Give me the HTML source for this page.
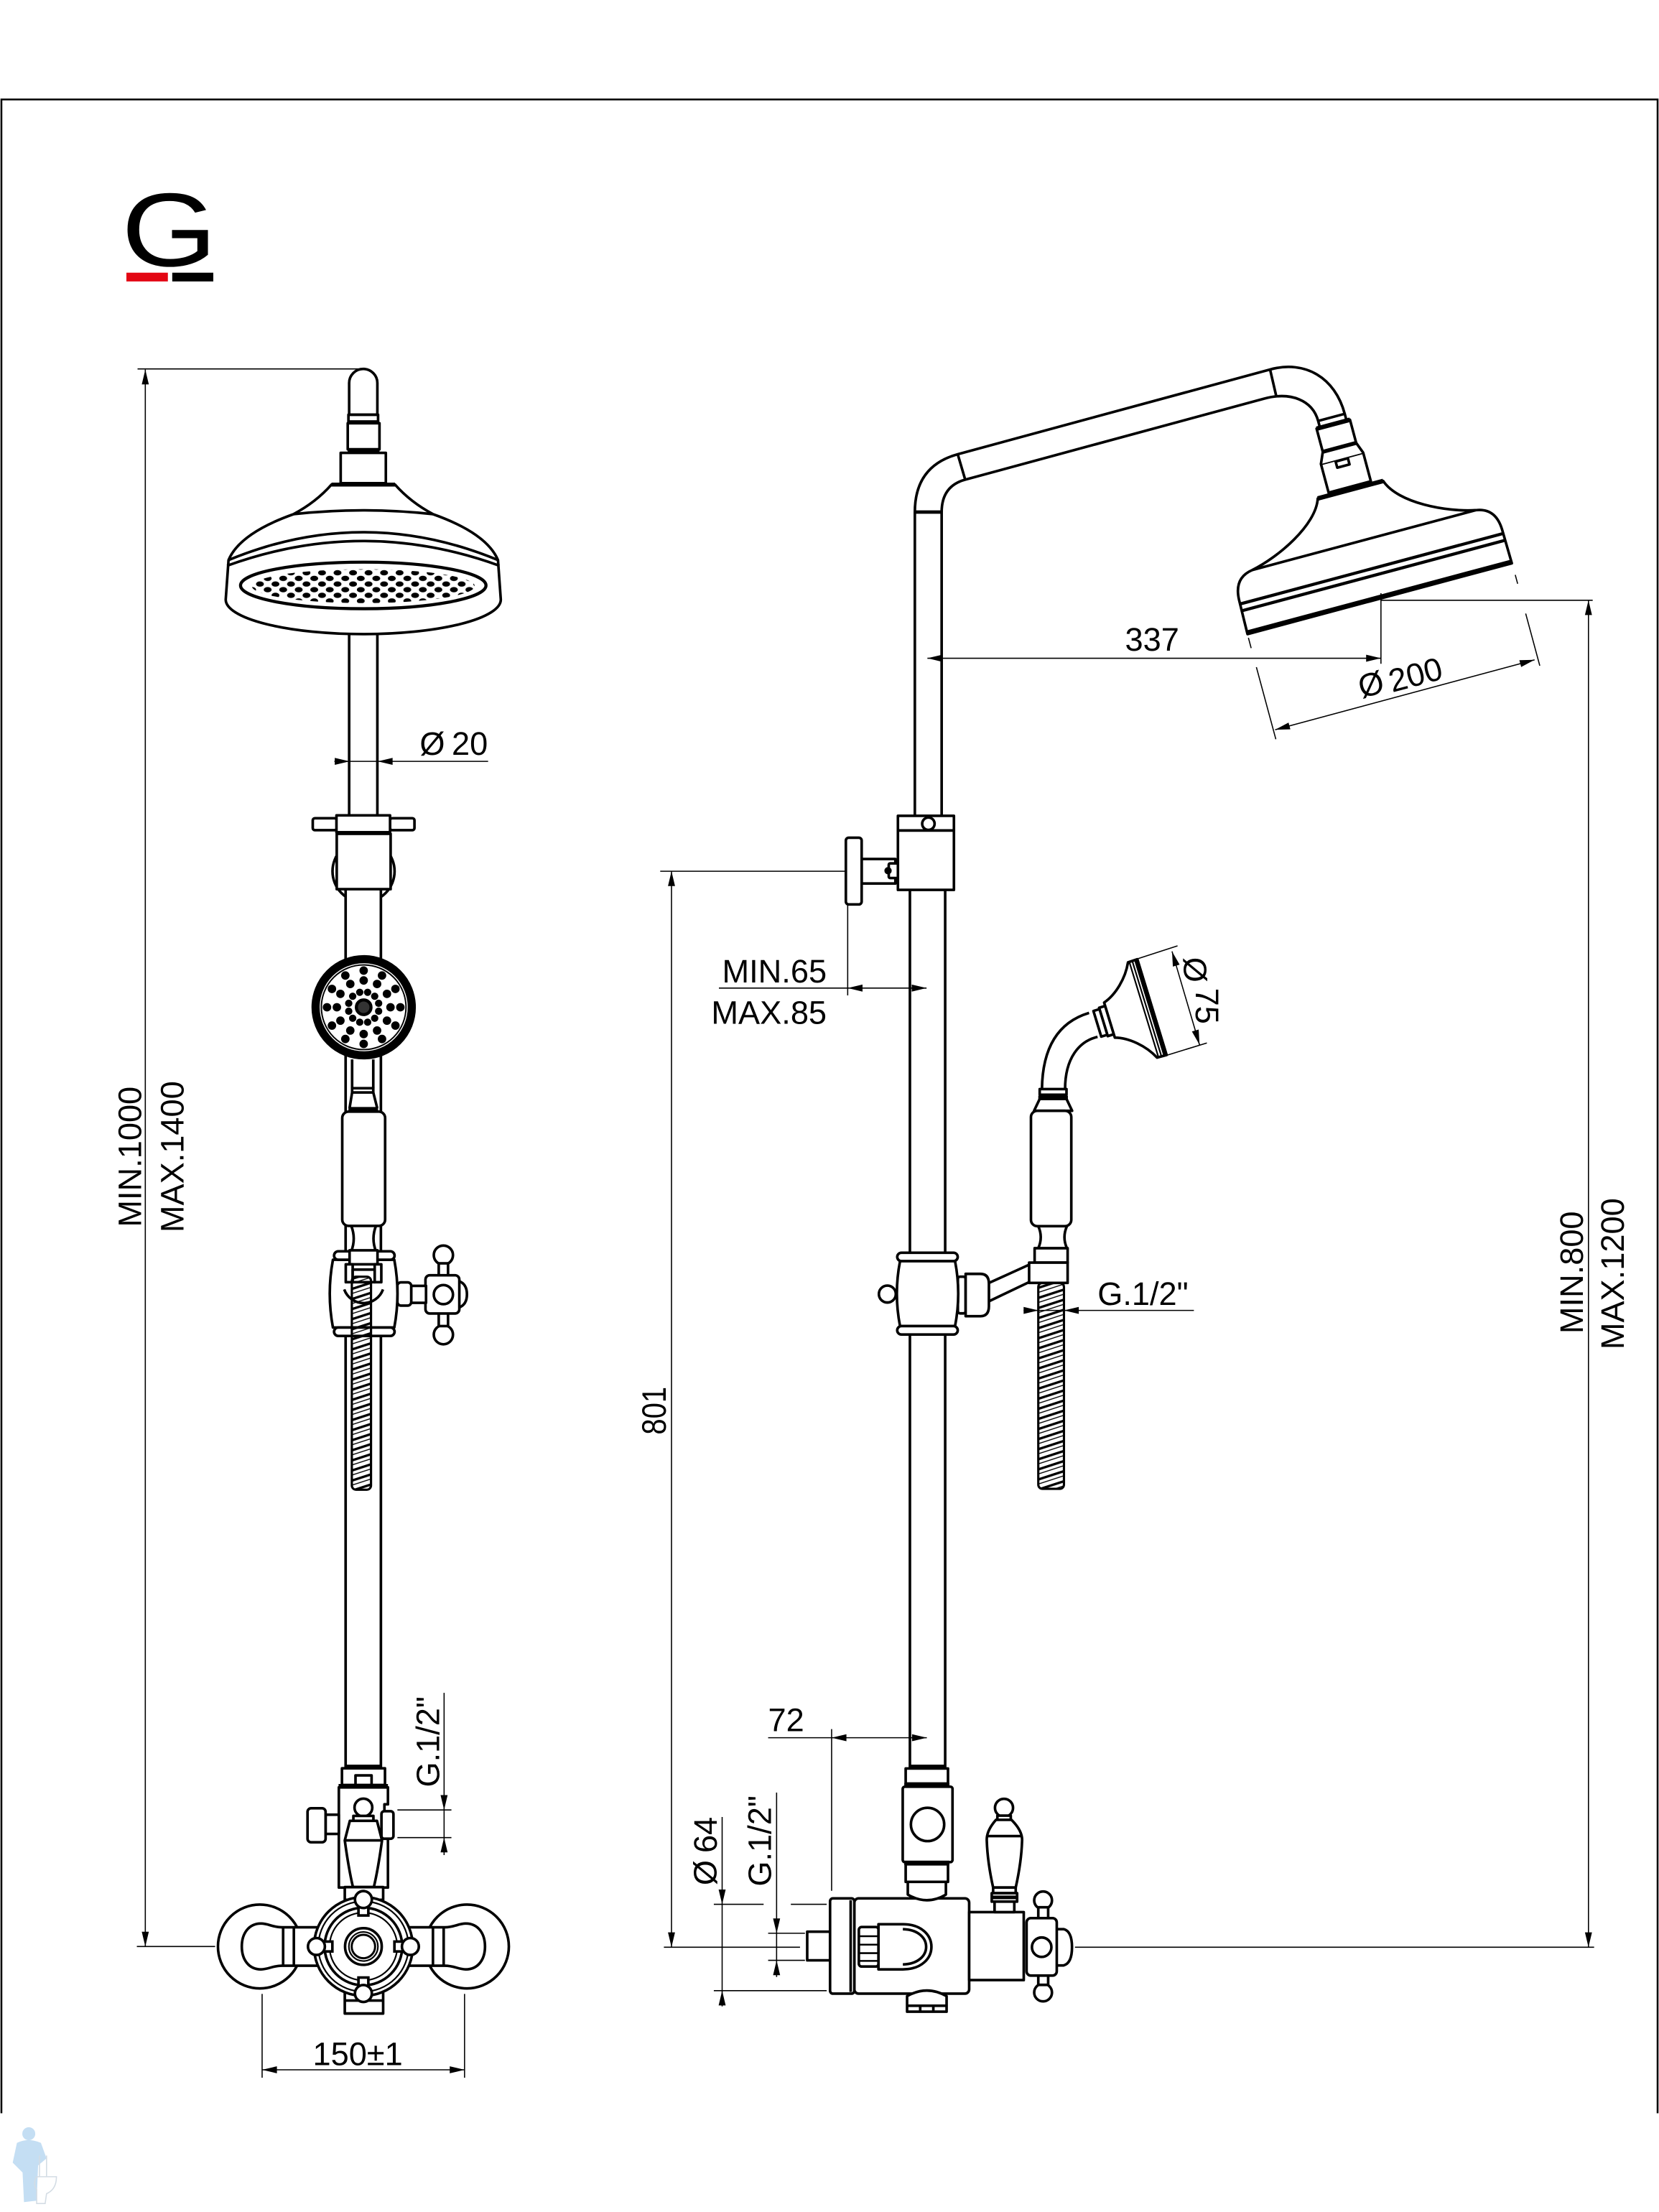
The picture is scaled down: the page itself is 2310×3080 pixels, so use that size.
<!DOCTYPE html>
<html><head><meta charset="utf-8">
<style>
html,body{margin:0;padding:0;background:#fff;width:2310px;height:3080px;overflow:hidden}
svg{display:block}
text{font-family:"Liberation Sans",Arial,Helvetica,sans-serif;font-size:23px;fill:#000}
</style></head><body>
<svg xmlns="http://www.w3.org/2000/svg" width="2310" height="3080" viewBox="0 0 1176 1568">
<defs>
<pattern id="holes" patternUnits="userSpaceOnUse" width="11" height="8">
<ellipse cx="2.75" cy="2" rx="2.8" ry="1.9" fill="#000"/>
<ellipse cx="8.25" cy="6" rx="2.8" ry="1.9" fill="#000"/>
</pattern>
<pattern id="rope" patternUnits="userSpaceOnUse" width="7" height="6.8" patternTransform="rotate(-18)">
<rect x="0" y="0" width="7" height="1.7" fill="#000"/>
<rect x="0" y="3.6" width="7" height="0.7" fill="#000"/>
</pattern>
</defs>
<rect width="1176" height="1568" fill="#fff"/>

<!-- frame -->
<path d="M1,1498 V70.5 H1175 V1498" fill="none" stroke="#000" stroke-width="1.3"/>

<!-- logo -->
<text transform="translate(86,188.5) scale(1.18,1)" style="font-size:74px">G</text>
<rect x="89.6" y="193.3" width="29.4" height="6.2" fill="#e30613"/>
<rect x="122.1" y="193.3" width="29.1" height="6.2" fill="#000"/>

<!-- ================= LEFT FIGURE ================= -->
<g fill="#fff" stroke="#000" stroke-width="1.85" stroke-linejoin="round">
<rect x="247.5" y="430" width="20" height="150"/>
<path d="M247.5,294 V271.5 A10,10 0 0 1 267.5,271.5 V294 Z"/>
<rect x="247" y="294" width="21" height="6"/>
<rect x="246.5" y="300" width="22.5" height="18.5"/>
<rect x="241.5" y="321" width="32" height="21.5"/>
<path d="M235,343.5 Q224,356 208,364.5 Q170,378 162,397 L160,425 A97.5,24.5 0 0 0 355,425 L353,397 Q345,378 307,364.5 Q291,356 280,343.5 Z"/>
</g>
<g fill="none" stroke="#000" stroke-width="1.85">
<line x1="247" y1="299.3" x2="268" y2="299.3" stroke-width="2.8"/>
<line x1="246.5" y1="319.8" x2="269" y2="319.8" stroke-width="3.2"/>
<line x1="235" y1="343.5" x2="280" y2="343.5" stroke-width="2.8"/>
<path d="M208,364.5 Q257.5,359 307,364.5"/>
<path d="M162,397 Q257.5,357.5 353,397"/>
<path d="M161,401 Q257.5,366 354,401"/>
</g>
<ellipse cx="257.5" cy="415" rx="87" ry="16.5" fill="#fff" stroke="#000" stroke-width="2.2"/>
<ellipse cx="257.5" cy="415.5" rx="79" ry="12" fill="url(#holes)"/>

<!-- slider top -->
<g fill="#fff" stroke="#000" stroke-width="1.85" stroke-linejoin="round">
<circle cx="257.7" cy="617.6" r="22"/>
<rect x="245" y="625" width="25" height="627.5"/>
<rect x="221.7" y="580" width="17" height="8.5" rx="1.5"/>
<rect x="276.5" y="580" width="17.3" height="8.5" rx="1.5"/>
<rect x="238.5" y="578" width="38" height="12"/>
<rect x="238.7" y="591" width="38.2" height="39.3"/>
</g>
<line x1="238.5" y1="590.5" x2="276.9" y2="590.5" stroke="#000" stroke-width="2.8"/>

<!-- hand shower front -->
<circle cx="257.8" cy="714" r="34.1" fill="#fff" stroke="#000" stroke-width="5.8"/>
<circle cx="257.8" cy="714" r="30" fill="none" stroke="#000" stroke-width="1"/>
<g fill="#000">
<circle cx="283.8" cy="714" r="3"/><circle cx="280.3" cy="727" r="3"/><circle cx="270.8" cy="736.5" r="3"/><circle cx="257.8" cy="740" r="3"/><circle cx="244.8" cy="736.5" r="3"/><circle cx="235.3" cy="727" r="3"/><circle cx="231.8" cy="714" r="3"/><circle cx="235.3" cy="701" r="3"/><circle cx="244.8" cy="691.5" r="3"/><circle cx="257.8" cy="688" r="3"/><circle cx="270.8" cy="691.5" r="3"/><circle cx="280.3" cy="701" r="3"/>
<circle cx="276.8" cy="714" r="3"/><circle cx="274.3" cy="723.5" r="3"/><circle cx="267.3" cy="730.5" r="3"/><circle cx="257.8" cy="733" r="3"/><circle cx="248.3" cy="730.5" r="3"/><circle cx="241.3" cy="723.5" r="3"/><circle cx="238.8" cy="714" r="3"/><circle cx="241.3" cy="704.5" r="3"/><circle cx="248.3" cy="697.5" r="3"/><circle cx="257.8" cy="695" r="3"/><circle cx="267.3" cy="697.5" r="3"/><circle cx="274.3" cy="704.5" r="3"/>
<circle cx="268.4" cy="716.8" r="2.6"/><circle cx="265.6" cy="721.8" r="2.6"/><circle cx="260.6" cy="724.6" r="2.6"/><circle cx="255" cy="724.6" r="2.6"/><circle cx="250" cy="721.8" r="2.6"/><circle cx="247.2" cy="716.8" r="2.6"/><circle cx="247.2" cy="711.2" r="2.6"/><circle cx="250" cy="706.2" r="2.6"/><circle cx="255" cy="703.4" r="2.6"/><circle cx="260.6" cy="703.4" r="2.6"/><circle cx="265.6" cy="706.2" r="2.6"/><circle cx="268.4" cy="711.2" r="2.6"/>
</g>
<circle cx="257.8" cy="714" r="5.2" fill="#333" stroke="#000" stroke-width="2.2"/>

<!-- neck & handle left -->
<g fill="none" stroke="#000" stroke-width="1.85">
<path d="M249.6,751 V771.4 M264.6,751 V771.4"/>
<rect x="249.6" y="771.4" width="15" height="3"/>
<path d="M249.6,774.4 L247.8,785.5 M264.6,774.4 L267.4,785.5"/>
<line x1="247" y1="786" x2="268" y2="786" stroke-width="2.6"/>
</g>
<rect x="242.6" y="788" width="30.4" height="81" rx="4.5" fill="#fff" stroke="#000" stroke-width="1.85"/>
<path d="M249,869 Q252.5,878 249,887 M266.5,869 Q263,878 266.5,887" fill="none" stroke="#000" stroke-width="1.85"/>

<!-- holder left -->
<g fill="#fff" stroke="#000" stroke-width="1.85" stroke-linejoin="round">
<circle cx="314.3" cy="889.7" r="6.8"/>
<rect x="311" y="895.5" width="6.6" height="9"/>
<circle cx="314.3" cy="946.1" r="6.8"/>
<rect x="311" y="930.5" width="6.6" height="9.5"/>
<path d="M325,908 Q331,910 331,917.5 Q331,925 325,927 Z"/>
<rect x="301.6" y="904" width="24" height="27.1" rx="3"/>
<rect x="291.5" y="911.5" width="10.5" height="12"/>
<rect x="281.7" y="909" width="9.8" height="16.5" rx="2.5"/>
<path d="M236,893 Q231.5,917 236,941 L279.5,941 Q284,917 279.5,893 Z"/>
<rect x="236.8" y="887" width="42.9" height="6" rx="3"/>
<rect x="236.8" y="941" width="42.9" height="6" rx="3"/>
<rect x="247.8" y="886.3" width="19.8" height="9.9"/>
<rect x="245.1" y="896.2" width="4.9" height="12.7"/>
<rect x="265.6" y="896.2" width="4.7" height="12.7"/>
<rect x="250" y="900" width="15.6" height="8.9"/>
</g>
<circle cx="314.3" cy="917.7" r="6.8" fill="none" stroke="#000" stroke-width="1.85"/>
<path d="M244,914 A14.6,14.6 0 0 0 271.5,914" fill="none" stroke="#000" stroke-width="1.85"/>
<rect x="249.4" y="905" width="13.6" height="151" rx="3" fill="url(#rope)" stroke="#000" stroke-width="1.6"/>

<!-- valve left -->
<g fill="#fff" stroke="#000" stroke-width="1.85" stroke-linejoin="round">
<rect x="242.4" y="1253.5" width="30.5" height="11.8"/>
<rect x="252" y="1258.5" width="11.4" height="6.8"/>
<path d="M240.2,1267 H275 V1279 H272.5 V1287 H275 V1338 H240.2 Z"/>
<rect x="230.8" y="1286.4" width="9.4" height="13.6"/>
<rect x="218" y="1281.8" width="12.8" height="24.1" rx="2.5"/>
<rect x="270.4" y="1283.9" width="8.5" height="19.5" rx="2"/>
<circle cx="257.6" cy="1281.3" r="6.3"/>
<rect x="250.5" y="1287.2" width="14.2" height="3.5"/>
<path d="M248,1290.7 H267.2 L270.8,1304.6 Q268,1325 265,1337.7 H250.2 Q247.2,1325 244.4,1304.6 Z"/>
<rect x="244.4" y="1337.7" width="27.2" height="9"/>
<rect x="244.4" y="1410" width="27.2" height="17.3"/>
<circle cx="184.2" cy="1379.8" r="29.7"/>
<circle cx="331" cy="1379.8" r="29.7"/>
<path d="M225,1366.2 H200 C193,1366.2 190.5,1363.5 185,1363.5 C176,1363.5 171.4,1371 171.4,1379.8 C171.4,1388.6 176,1396 185,1396 C190.5,1396 193,1393.4 200,1393.4 H225"/>
<path d="M290.2,1366.2 H315.2 C322.2,1366.2 324.7,1363.5 330.2,1363.5 C339.2,1363.5 343.8,1371 343.8,1379.8 C343.8,1388.6 339.2,1396 330.2,1396 C324.7,1396 322.2,1393.4 315.2,1393.4 H290.2"/>
</g>
<g fill="none" stroke="#000" stroke-width="1.85">
<line x1="245" y1="1252.5" x2="270" y2="1252.5" stroke-width="3.2"/>
<line x1="240" y1="1266.2" x2="275" y2="1266.2" stroke-width="3.2"/>
<line x1="244.4" y1="1304.6" x2="270.8" y2="1304.6"/>
<line x1="244.4" y1="1418.1" x2="271.6" y2="1418.1"/>
<line x1="200.7" y1="1366.2" x2="200.7" y2="1393.4"/>
<line x1="208.3" y1="1366.2" x2="208.3" y2="1393.4"/>
<line x1="314.5" y1="1366.2" x2="314.5" y2="1393.4"/>
<line x1="306.9" y1="1366.2" x2="306.9" y2="1393.4"/>
</g>
<circle cx="257.6" cy="1379.8" r="35" fill="#fff" stroke="#000" stroke-width="1.85"/>
<g fill="none" stroke="#000">
<circle cx="257.6" cy="1379.8" r="32" stroke-width="1.1"/>
<circle cx="257.6" cy="1379.8" r="27.5" stroke-width="1.85"/>
<circle cx="257.6" cy="1379.8" r="24" stroke-width="1.1"/>
<circle cx="257.6" cy="1379.8" r="13" stroke-width="1.85"/>
<circle cx="257.6" cy="1379.8" r="10.3" stroke-width="1.1"/>
<circle cx="257.6" cy="1379.8" r="8.3" stroke-width="1.5"/>
</g>
<g fill="#fff" stroke="#000" stroke-width="1.85">
<rect x="254.1" y="1350.8" width="7" height="7"/>
<rect x="254.1" y="1401.8" width="7" height="7"/>
<rect x="228.6" y="1376.3" width="7" height="7"/>
<rect x="279.6" y="1376.3" width="7" height="7"/>
<circle cx="257.6" cy="1346.5" r="6"/>
<circle cx="257.6" cy="1413.1" r="6"/>
<circle cx="224.3" cy="1379.8" r="6"/>
<circle cx="290.9" cy="1379.8" r="6"/>
</g>

<!-- left dims -->
<g fill="none" stroke="#000" stroke-width="0.8">
<line x1="97.5" y1="261.5" x2="257" y2="261.5"/>
<line x1="103" y1="262" x2="103" y2="1380"/>
<line x1="97" y1="1379.8" x2="152.5" y2="1379.8"/>
<line x1="237" y1="539.7" x2="346" y2="539.7"/>
<line x1="314.8" y1="1200" x2="314.8" y2="1315"/>
<line x1="281.7" y1="1283" x2="320" y2="1283"/>
<line x1="281.7" y1="1302.6" x2="320" y2="1302.6"/>
<line x1="185.8" y1="1413.4" x2="185.8" y2="1472.8"/>
<line x1="329.3" y1="1413.4" x2="329.3" y2="1472.8"/>
<line x1="185.8" y1="1467.2" x2="329.3" y2="1467.2"/>
</g>
<g fill="#000">
<polygon points="103,262 100.5,272.5 105.5,272.5"/>
<polygon points="103,1379.8 100.5,1369.3 105.5,1369.3"/>
<polygon points="247.8,539.7 237.3,537.2 237.3,542.2"/>
<polygon points="267.8,539.7 278.3,537.2 278.3,542.2"/>
<polygon points="314.8,1283 312.3,1272.5 317.3,1272.5"/>
<polygon points="314.8,1302.6 312.3,1313.1 317.3,1313.1"/>
<polygon points="185.8,1467.2 196.3,1464.7 196.3,1469.7"/>
<polygon points="329.3,1467.2 318.8,1464.7 318.8,1469.7"/>
</g>
<text transform="translate(100,820) rotate(-90)" text-anchor="middle">MIN.1000</text>
<text transform="translate(130,820) rotate(-90)" text-anchor="middle">MAX.1400</text>
<text x="297.5" y="535">Ø</text>
<text x="320.2" y="535">20</text>
<text transform="translate(311.4,1234.7) rotate(-90)" text-anchor="middle">G.1/2"</text>
<text x="221.7" y="1464">150±1</text>

<!-- ================= RIGHT FIGURE ================= -->
<g fill="none" stroke="#000" stroke-width="1.85" stroke-linejoin="round">
<path d="M648.5,580 V363 Q648.5,330.3 678.9,322 L900.3,261.9 C925.2,255.1 946.4,267.7 953.2,293.3"/>
<path d="M667.5,580 V363 Q667.5,344.5 684.2,340 L896,282.6 C915.1,277.4 930.4,283.8 934.4,298.4"/>
<line x1="648.5" y1="363" x2="667.5" y2="363" stroke-width="2.4"/>
<line x1="678.9" y1="322" x2="684.2" y2="340"/>
<line x1="900.3" y1="261.9" x2="904.6" y2="280.4"/>
</g>

<!-- side shower head -->
<g transform="translate(978,424.4) rotate(-15)" stroke="#000" stroke-width="1.85" stroke-linejoin="round">
<path d="M-97,0 L-96.5,-25 Q-96,-41 -82,-43 C-62,-47 -30,-62 -24,-80 L24,-80 C30,-62 62,-47 82,-43 Q96,-41 96.5,-25 L97,0 Z" fill="#fff"/>
<line x1="-82" y1="-43" x2="82" y2="-43"/>
<line x1="-96.6" y1="-22" x2="96.6" y2="-22" stroke-width="2.2"/>
<line x1="-96.8" y1="-17" x2="96.8" y2="-17" stroke-width="2.2"/>
<line x1="-97" y1="-1" x2="97" y2="-1" stroke-width="3.4"/>
<line x1="-24" y1="-80" x2="24" y2="-80" stroke-width="3.2"/>
<rect x="-15.5" y="-103" width="31" height="21" fill="#fff"/>
<rect x="-5" y="-102" width="9" height="4.5" fill="#fff"/>
<path d="M-15.5,-103 L-12,-111 L12.5,-111 L15.5,-103" fill="#fff"/>
<rect x="-12" y="-128" width="24.5" height="17" fill="#fff"/>
<line x1="-12" y1="-111" x2="12.5" y2="-111" stroke-width="2.8"/>
<rect x="-9.5" y="-133" width="19.5" height="5" fill="#fff"/>
<line x1="-12" y1="-128" x2="12.5" y2="-128" stroke-width="3.2"/>
</g>

<!-- lower pipe -->
<rect x="645" y="628" width="25" height="624" fill="#fff" stroke="#000" stroke-width="1.85"/>

<!-- bracket & slider -->
<g fill="#fff" stroke="#000" stroke-width="1.85" stroke-linejoin="round">
<rect x="610.8" y="608.9" width="23.9" height="17.4"/>
<rect x="630" y="612" width="8.6" height="10.4" rx="1"/>
<rect x="599.6" y="593.8" width="11.2" height="47.3" rx="2"/>
<rect x="636.5" y="578.3" width="39.7" height="10.4"/>
<circle cx="658.1" cy="583.9" r="4.4"/>
<rect x="636.5" y="588.7" width="39.7" height="42.1"/>
</g>
<circle cx="629.5" cy="617.2" r="2.6" fill="#000"/>

<!-- lower holder right -->
<g fill="#fff" stroke="#000" stroke-width="1.85" stroke-linejoin="round">
<circle cx="629" cy="917.3" r="6"/>
<path d="M700.9,909.5 L729.5,896.5 L730.8,908.2 L700.9,922.5 Z"/>
<rect x="679" y="905" width="5.5" height="26" rx="1.5"/>
<path d="M684.5,903 H695 Q701,903 701,910 V926 Q701,933 695,933 H684.5 Z"/>
<rect x="636" y="888" width="42.9" height="6" rx="3"/>
<path d="M638,894 Q633.5,917 638,940 L677,940 Q681.5,917 677,894 Z"/>
<rect x="636" y="940" width="42.9" height="6" rx="3"/>
</g>

<!-- hand shower right: tube -->
<g fill="none" stroke="#000" stroke-width="1.85">
<path d="M772,718 C752,724 739,740 738.6,772"/>
<path d="M778,735 C765,738 755,750 755,772"/>
</g>
<g transform="translate(816.6,713.9) rotate(-107)" fill="#fff" stroke="#000" stroke-width="1.85" stroke-linejoin="round">
<rect x="-10.5" y="-36" width="21" height="4.5"/>
<rect x="-9.5" y="-40.5" width="19" height="4.5"/>
<path d="M-35.5,0 L-35.3,-7 C-25,-12 -16,-22 -13,-31.5 L13,-31.5 C16,-22 25,-12 35.3,-7 L35.5,0 Z"/>
<line x1="-35.5" y1="-0.8" x2="35.5" y2="-0.8" stroke-width="3.2"/>
<line x1="-35.3" y1="-3.8" x2="35.3" y2="-3.8" stroke-width="1.1"/>
<line x1="-35.3" y1="-6" x2="35.3" y2="-6" stroke-width="1.1"/>
</g>
<g fill="#fff" stroke="#000" stroke-width="1.85" stroke-linejoin="round">
<rect x="737" y="772" width="19" height="4"/>
<path d="M737,779 L733,787.4 H760 L756,779 Z"/>
<rect x="730.8" y="787.4" width="28.6" height="81.8" rx="4.5"/>
<rect x="733.4" y="884.8" width="23.4" height="10.2"/>
<rect x="729.5" y="895" width="27.3" height="14.4"/>
</g>
<line x1="736" y1="778" x2="757" y2="778" stroke="#000" stroke-width="2.6"/>
<path d="M736,869.2 Q739.5,877 736,884.8 M756.3,869.2 Q752.8,877 756.3,884.8" fill="none" stroke="#000" stroke-width="1.85"/>
<rect x="736" y="909.4" width="18.2" height="146" rx="3" fill="url(#rope)" stroke="#000" stroke-width="1.6"/>

<!-- valve right -->
<g fill="#fff" stroke="#000" stroke-width="1.85" stroke-linejoin="round">
<rect x="642" y="1253.6" width="30" height="10.7"/>
<rect x="639.9" y="1266.5" width="35.3" height="53.5" rx="1.5"/>
<circle cx="657.5" cy="1293.3" r="11.8"/>
<rect x="642" y="1321.5" width="30" height="12.5"/>
<rect x="572.2" y="1369.3" width="16.2" height="20.3"/>
<rect x="605.6" y="1345.7" width="81.4" height="67.5" rx="3"/>
<rect x="588.4" y="1345.7" width="17.2" height="67.5" rx="2"/>
<path d="M643.5,1334 V1343 Q657,1351 670.5,1343 V1334 Z"/>
<path d="M643,1415 Q657,1407 671,1415 V1426 H643 Z"/>
<rect x="608.8" y="1366" width="14" height="28" rx="2"/>
<path d="M622.7,1364 H640 C667,1364 667,1396 640,1396 H622.7 Z"/>
<rect x="687" y="1355.4" width="38.7" height="48.2"/>
<circle cx="711.7" cy="1281.5" r="6.4"/>
<rect x="707" y="1287" width="9.5" height="3.2"/>
<path d="M706,1290 L717,1290 Q725,1298 724.5,1305 Q724,1320 720,1338 L704,1338 Q700,1320 699.5,1305 Q699,1298 706,1290 Z"/>
<rect x="704" y="1338" width="16" height="4"/>
<rect x="703" y="1342" width="18" height="6"/>
<rect x="705" y="1348" width="14" height="7.4"/>
<circle cx="739.4" cy="1347.1" r="6.3"/>
<circle cx="739.4" cy="1412.4" r="6.3"/>
<rect x="736" y="1352" width="7" height="9"/>
<rect x="736" y="1399" width="7" height="8"/>
<path d="M748,1367.5 H754 Q759.9,1369 759.9,1380.3 Q759.9,1391.6 754,1393.2 H748 Z"/>
<rect x="727.7" y="1359.7" width="21.4" height="40.7" rx="3"/>
<circle cx="738.4" cy="1380.3" r="6.9"/>
</g>
<g fill="none" stroke="#000" stroke-width="1.85">
<line x1="645" y1="1252.5" x2="670" y2="1252.5" stroke-width="3.2"/>
<line x1="641" y1="1265.5" x2="673" y2="1265.5" stroke-width="3.2"/>
<line x1="641" y1="1320.5" x2="673" y2="1320.5" stroke-width="3.2"/>
<line x1="603" y1="1347" x2="603" y2="1412"/>
<path d="M640,1367.5 C662,1368 662,1392 640,1392.5"/>
<path d="M609,1372.5 H622.7 M609,1378.5 H622.7 M609,1384.5 H622.7 M609,1390 H622.7" stroke-width="1.3"/>
<path d="M643,1421.8 H671 M652.3,1421.8 V1426 M661.6,1421.8 V1426"/>
<line x1="700" y1="1301.5" x2="724" y2="1301.5"/>
<line x1="703" y1="1345" x2="721" y2="1345" stroke-width="2.6"/>
</g>

<!-- right dims -->
<g fill="none" stroke="#000" stroke-width="0.8">
<path d="M468,617.6 H599.6 M476,617.6 V1380.3 M470.6,1380.3 H567.1"/>
<path d="M509.6,700.4 H656.8 M600.9,640.5 V705.6"/>
<path d="M657.4,466.6 H978.9 M978.9,420.5 V470.5"/>
<path d="M978.9,425.5 H1129 M1126,425.5 V1380.3 M762,1380.3 H1130"/>
<path d="M903.9,517.3 L1087.8,467.7"/>
<path d="M884.95,452.1 L886.9,459.4 M890.6,472.9 L904.4,524"/>
<path d="M1074.1,407.5 L1075.8,413.8 M1081.5,434.9 L1091.5,471.9"/>
<path d="M830.8,674.4 L850.3,740.6 M806.2,679.7 L834.7,670.5 M826.9,748.1 L855.5,739.3"/>
<path d="M725.6,928.9 H846.3 M736.1,909.4 V932 M754.2,909.4 V932"/>
<path d="M544.5,1231.8 H657 M589.5,1225.7 V1340.3"/>
<path d="M511.9,1288 V1422.3 M506,1349.9 H541.3 M560.6,1349.9 H586 M506,1411.1 H586"/>
<path d="M550.5,1270.7 V1401.4 M544.5,1370.4 H570.6 M544.5,1389.6 H570.6"/>
</g>
<g fill="#000">
<polygon points="476,617.6 473.5,628.1 478.5,628.1"/>
<polygon points="476,1380.3 473.5,1369.8 478.5,1369.8"/>
<polygon points="600.9,700.4 611.4,697.9 611.4,702.9"/>
<polygon points="656.8,700.4 646.3,697.9 646.3,702.9"/>
<polygon points="657.4,466.6 667.9,464.1 667.9,469.1"/>
<polygon points="978.9,466.6 968.4,464.1 968.4,469.1"/>
<polygon points="1087.8,467.7 1078.3,472.8 1077.0,468.0"/>
<polygon points="903.9,517.3 914.7,517.0 913.4,512.2"/>
<polygon points="1126,425.5 1123.5,436 1128.5,436"/>
<polygon points="1126,1380.3 1123.5,1369.8 1128.5,1369.8"/>
<polygon points="850.3,740.6 849.7,729.8 844.9,731.2"/>
<polygon points="830.8,674.4 836.2,683.8 831.4,685.2"/>
<polygon points="736.1,928.9 725.6,926.4 725.6,931.4"/>
<polygon points="754.2,928.9 764.7,926.4 764.7,931.4"/>
<polygon points="589.5,1231.8 600,1229.3 600,1234.3"/>
<polygon points="657,1231.8 646.5,1229.3 646.5,1234.3"/>
<polygon points="511.9,1349.9 509.4,1339.4 514.4,1339.4"/>
<polygon points="511.9,1411.1 509.4,1421.6 514.4,1421.6"/>
<polygon points="550.5,1370.4 548,1359.9 553,1359.9"/>
<polygon points="550.5,1389.6 548,1400.1 553,1400.1"/>
</g>

<!-- right texts -->
<text x="797.5" y="461.3">337</text>
<g transform="translate(971.7,484.6) rotate(-15)">
<text x="0" y="8.4" text-anchor="middle">Ø</text>
<text x="13" y="10">200</text>
</g>
<text x="586" y="696.5" text-anchor="end">MIN.65</text>
<text x="586" y="725.6" text-anchor="end">MAX.85</text>
<text transform="translate(847.6,687.4) rotate(90)" x="0" y="8.4" text-anchor="middle">Ø</text>
<text transform="translate(847.7,700.3) rotate(90)">75</text>
<text x="778" y="925">G.1/2"</text>
<text transform="translate(472,1000) rotate(-90)" text-anchor="middle" style="font-size:24px" textLength="34" lengthAdjust="spacingAndGlyphs">801</text>
<text transform="translate(1122,902) rotate(-90)" text-anchor="middle">MIN.800</text>
<text transform="translate(1151,903) rotate(-90)" text-anchor="middle">MAX.1200</text>
<text x="544.5" y="1227.2">72</text>
<text transform="translate(508.1,1300.7) rotate(-90)" text-anchor="middle">64</text>
<text transform="translate(499.5,1327.5) rotate(-90)" x="0" y="8.4" text-anchor="middle">Ø</text>
<text transform="translate(546.6,1305) rotate(-90)" text-anchor="middle">G.1/2"</text>

<!-- watermark -->
<g fill="#c4def3">
<ellipse cx="20.4" cy="1512.5" rx="4.6" ry="4.6"/>
<path d="M12,1519 Q20,1515 29,1519 L33,1530 L27,1535 L26,1560 L17,1561 L16,1540 L9,1533 Z"/>
</g>
<path d="M28,1528 V1543 M33,1528 V1543 M26,1543 H40 Q40,1552 33,1555 L32,1562 H26 V1552 Q23,1548 26,1543 Z" fill="none" stroke="#d3dce4" stroke-width="0.8"/>
</svg>
</body></html>
